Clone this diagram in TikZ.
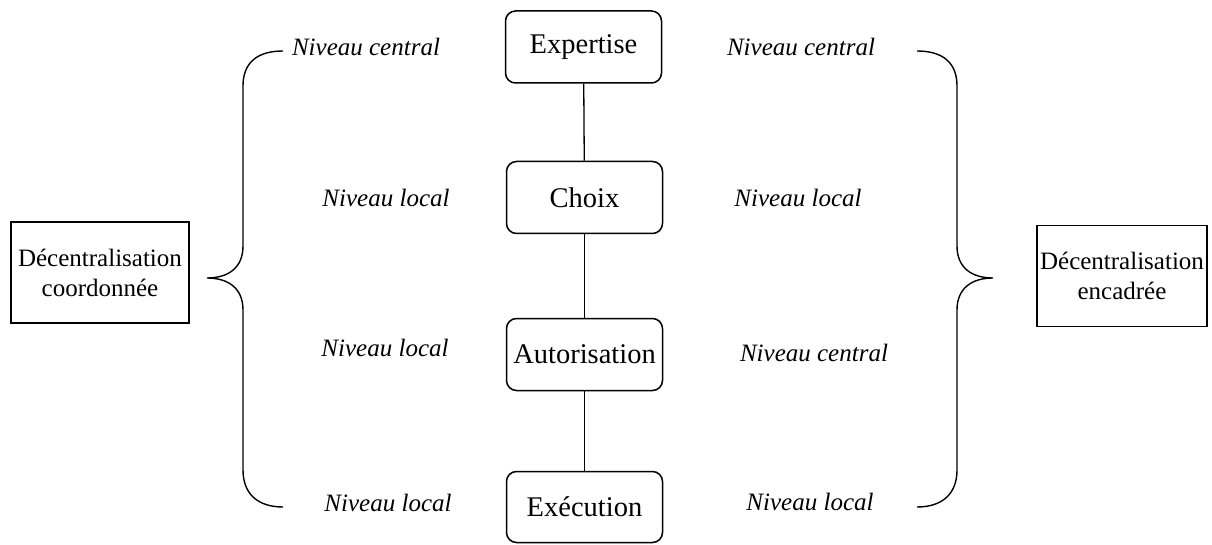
\documentclass[tikz,border=0pt]{standalone}
\usepackage{fontspec}
\setmainfont{LiberationSerif}[Extension=.ttf,UprightFont=*-Regular,ItalicFont=*-Italic,BoldFont=*-Bold,BoldItalicFont=*-BoldItalic]
\begin{document}
\begin{tikzpicture}[x=1pt,y=-1pt,
  stagebox/.style={draw,line width=1.5pt,rounded corners=10pt,minimum width=156pt,minimum height=72pt,inner sep=0pt,font=\fontsize{28.5}{32}\selectfont},
  sidebox/.style={draw,line width=1.3pt,minimum height=101pt,inner sep=0pt,align=center,font=\fontsize{25}{30}\selectfont},
  lvl/.style={font=\fontsize{25}{30}\selectfont\itshape,inner sep=0pt},
  link/.style={line width=1.3pt},
  bracepath/.style={line width=1.4pt}]
\useasboundingbox (0,0) rectangle (1212,545);
\node[stagebox] (exp) at (583.5,47) {Expertise};
\node[stagebox] (cho) at (584.5,197.5) {Choix};
\node[stagebox] (aut) at (584.5,354.5) {Autorisation};
\node[stagebox,minimum height=71pt] (exe) at (584.5,507) {Exécution};
\draw[link] (exp) -- (cho);
\draw[link] (cho) -- (aut);
\draw[link] (aut) -- (exe);
\node[sidebox,minimum width=178pt] (dc) at (100,272.5) {Décentralisation\\coordonnée};
\node[sidebox,minimum width=170pt] (de) at (1122,276) {Décentralisation\\encadrée};
% left brace
\draw[bracepath] (283,51) .. controls (258,51) and (243,62) .. (243,86) -- (243,246)
  .. controls (243,268) and (228,278) .. (207,278)
  .. controls (228,278) and (243,288) .. (243,310) -- (243,470)
  .. controls (243,494) and (258,507) .. (283,507);
% right brace
\draw[bracepath] (917,51) .. controls (942,51) and (957,62) .. (957,86) -- (957,246)
  .. controls (957,268) and (972,278) .. (993,278)
  .. controls (972,278) and (957,288) .. (957,310) -- (957,470)
  .. controls (957,494) and (942,507) .. (917,507);
% labels left
\node[lvl] (l1) at (366,47) {Niveau central};
\node[lvl] (l2) at (386,198) {Niveau local};
\node[lvl] (l3) at (385,348) {Niveau local};
\node[lvl] (l4) at (388,503) {Niveau local};
% labels right
\node[lvl] (r1) at (801,47) {Niveau central};
\node[lvl] (r2) at (798,198) {Niveau local};
\node[lvl] (r3) at (814,353) {Niveau central};
\node[lvl] (r4) at (810,502) {Niveau local};
\end{tikzpicture}
\end{document}
